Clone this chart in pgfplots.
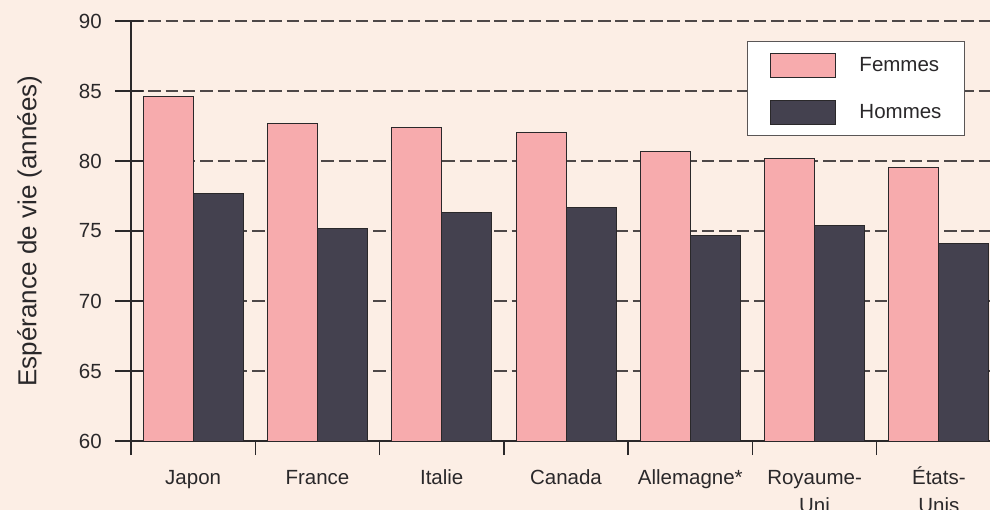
\documentclass[border=0pt]{standalone}
\usepackage{fontspec}
\setmainfont{Liberation Sans}
\usepackage{pgfplots}
\pgfplotsset{compat=1.18}
\definecolor{bgc}{RGB}{252,238,229}
\definecolor{femmes}{RGB}{247,171,173}
\definecolor{hommes}{RGB}{68,65,79}
\definecolor{txt}{RGB}{42,40,42}
\definecolor{gridc}{RGB}{78,72,72}
\definecolor{legc}{RGB}{90,86,86}

\begin{document}
\begin{tikzpicture}
\path[use as bounding box] (0,0) rectangle (990bp,510bp);
\clip (0,0) rectangle (990bp,510bp);
\fill[bgc] (0,0) rectangle (990bp,510bp);
\begin{axis}[
  at={(131bp,69bp)}, anchor=south west,
  scale only axis, width=870bp, height=420bp,
  xmin=-0.5, xmax=6.5, ymin=60, ymax=90,
  axis x line=bottom, axis y line=left,
  axis line style={-, line width=2bp, draw=txt},
  ybar=0pt, bar width=50bp,
  xtick={0,...,6},
  xticklabels={Japon, France, Italie, Canada, Allemagne*,
    {\begin{tabular}[t]{@{}c@{}}Royaume-\\Uni\end{tabular}},
    {\begin{tabular}[t]{@{}c@{}}États-\\Unis\end{tabular}}},
  minor xtick={-0.5,0.5,...,6.5},
  ytick={60,65,...,90},
  tick align=outside,
  major tick length=28bp,
  minor tick length=14bp,
  major x tick style={draw=none},
  minor x tick style={line width=1.3bp, draw=txt},
  major y tick style={line width=1.3bp, draw=txt, xshift=12bp},
  ymajorgrids,
  grid style={line width=1.3bp, draw=gridc, dash pattern=on 12.5bp off 4.8bp},
  /pgf/number format/assume math mode=true,
  tick label style={font=\fontsize{20.5bp}{28bp}\selectfont, text=txt},
  yticklabel style={inner sep=0pt, xshift=-1bp},
  xticklabel style={anchor=base, inner sep=0pt, yshift=-15bp},
  ylabel={Espérance de vie (années)},
  ylabel style={font=\fontsize{26bp}{30bp}\selectfont, text=txt,
    at={(rel axis cs:0,0.5)}, anchor=south, inner sep=0pt, yshift=89bp},
  legend style={at={(rel axis cs:0.9586,0.952)}, anchor=north east,
    draw=legc, line width=1bp, fill=white,
    inner xsep=23bp, inner ysep=11bp, row sep=22bp,
    font=\fontsize{20.5bp}{24bp}\selectfont, text=txt,
    nodes={inner sep=0pt},
    /tikz/every odd column/.append style={column sep=23bp}},
  legend cell align=left,
  every axis plot post/.append style={
    legend image code/.code={\draw[##1, line width=1bp] (0bp,-12bp) rectangle (65bp,12bp);}},
]
\addplot[fill=femmes, draw=txt, line width=1bp] coordinates
  {(0,84.6) (1,82.7) (2,82.4) (3,82.0) (4,80.7) (5,80.2) (6,79.5)};
\addlegendentry{Femmes}
\addplot[fill=hommes, draw=txt, line width=1bp] coordinates
  {(0,77.7) (1,75.2) (2,76.3) (3,76.7) (4,74.7) (5,75.4) (6,74.1)};
\addlegendentry{Hommes}
\end{axis}
\end{tikzpicture}
\end{document}
